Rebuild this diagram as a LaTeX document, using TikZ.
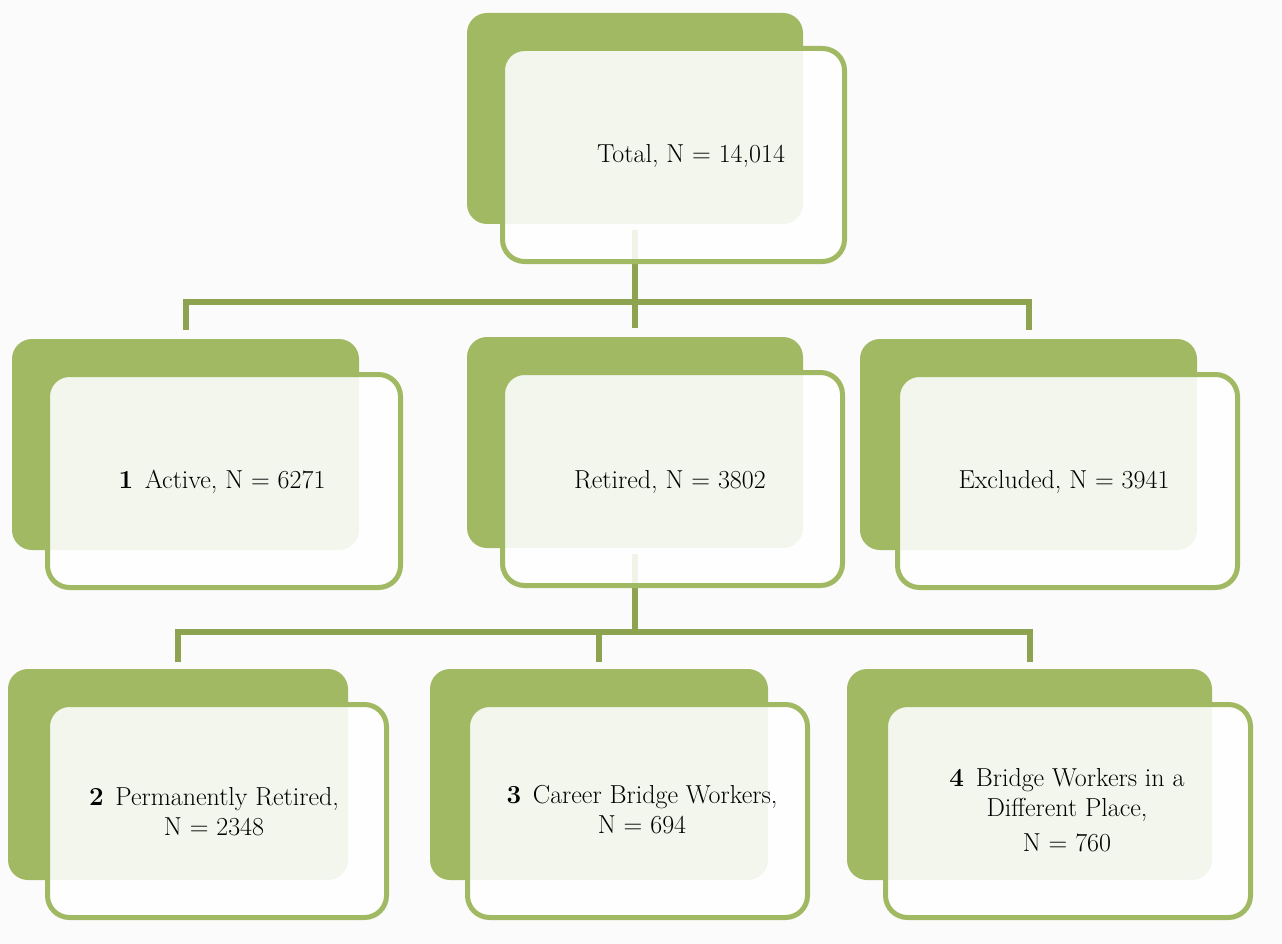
\documentclass[tikz,border=0pt]{standalone}
\usepackage{tikz}
\definecolor{boxgreen}{HTML}{A2B964}
\definecolor{linegreen}{HTML}{8EA350}
\definecolor{bgcol}{HTML}{FBFBFB}
\begin{document}
\begin{tikzpicture}[x=1pt,y=-1pt,
  backbox/.style={rectangle, rounded corners=20pt, fill=boxgreen, draw=none, inner sep=0pt},
  frontbox/.style={rectangle, rounded corners=22pt, draw=boxgreen, line width=5pt, fill=white, fill opacity=0.88, inner sep=0pt},
  conn/.style={draw=linegreen, line width=6pt},
  lbl/.style={font=\fontsize{26}{30}\selectfont, align=center, inner sep=0pt, text=black}]
\fill[bgcol] (0,0) rectangle (1282,944);
\useasboundingbox (0,0) rectangle (1282,944);
% back boxes
\node[backbox, minimum width=336pt, minimum height=211pt] (tb) at (635,118.5) {};
\node[backbox, minimum width=347pt, minimum height=211pt] (mlb) at (185.5,444.5) {};
\node[backbox, minimum width=336pt, minimum height=211pt] (mmb) at (635,442.5) {};
\node[backbox, minimum width=337pt, minimum height=211pt] (mrb) at (1028.5,444.5) {};
\node[backbox, minimum width=340pt, minimum height=211pt] (blb) at (178,774.5) {};
\node[backbox, minimum width=338pt, minimum height=211pt] (bmb) at (599,774.5) {};
\node[backbox, minimum width=365pt, minimum height=211pt] (brb) at (1029.5,774.5) {};
% connectors
\coordinate (j1) at (635,302);
\coordinate (j2) at (635,632);
\draw[conn] ([yshift=-6pt]tb.south) -- (j1);
\draw[conn, shorten >=9pt] (j1) -| (mlb.north);
\draw[conn, shorten >=9pt] (j1) -| (mrb.north);
\draw[conn, shorten >=9pt] (j1) -- (mmb.north);
\draw[conn] ([yshift=-6pt]mmb.south) -- (j2);
\draw[conn, shorten >=7pt] (j2) -| (blb.north);
\draw[conn, shorten >=7pt] (j2) -| (brb.north);
\draw[conn, shorten >=7pt] (j2) -| (bmb.north);
% front boxes
\node[frontbox, minimum width=342pt, minimum height=213pt] (tf) at (673.5,155) {};
\node[frontbox, minimum width=353pt, minimum height=213pt] (mlf) at (224,481) {};
\node[frontbox, minimum width=340pt, minimum height=213pt] (mmf) at (672.5,479) {};
\node[frontbox, minimum width=340pt, minimum height=213pt] (mrf) at (1067.5,481) {};
\node[frontbox, minimum width=339pt, minimum height=213pt] (blf) at (217,811) {};
\node[frontbox, minimum width=340pt, minimum height=213pt] (bmf) at (637.5,811) {};
\node[frontbox, minimum width=365pt, minimum height=213pt] (brf) at (1068,811) {};
% labels
\node[lbl, anchor=base] (tt) at (691,163) {Total, N = 14,014};
\node[lbl, anchor=base] (mlt) at (222,488) {\textbf{1}\hspace{0.45em}Active, N = 6271};
\node[lbl, anchor=base] (mmt) at (670,488) {Retired, N = 3802};
\node[lbl, anchor=base] (mrt) at (1064,488) {Excluded, N = 3941};
\node[lbl] (blt) at (214,812) {\textbf{2}\hspace{0.45em}Permanently Retired,\\ N = 2348};
\node[lbl] (bmt) at (642,810) {\textbf{3}\hspace{0.45em}Career Bridge Workers,\\ N = 694};
\node[lbl] (brt) at (1067,810) {\textbf{4}\hspace{0.45em}Bridge Workers in a\\ Different Place,\\[5pt] N = 760};
\end{tikzpicture}
\end{document}
